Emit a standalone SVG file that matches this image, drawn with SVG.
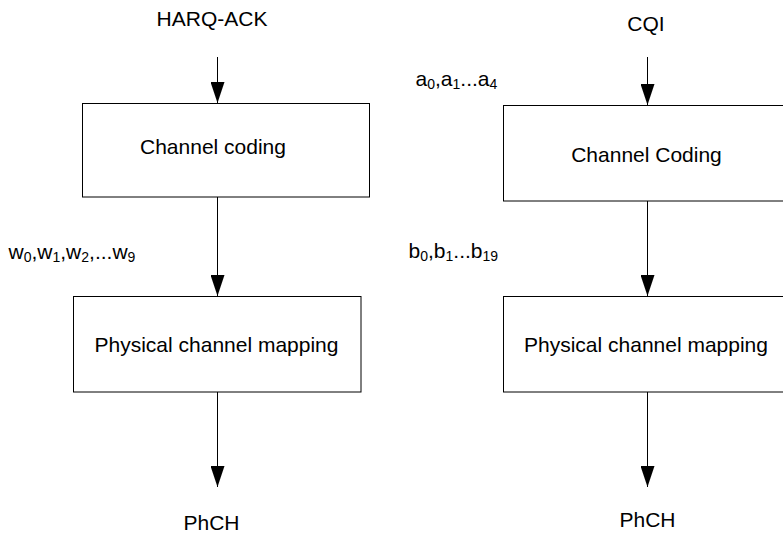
<svg xmlns="http://www.w3.org/2000/svg" width="783" height="535" viewBox="0 0 783 535">
<style>
text{font-family:"Liberation Sans",Arial,sans-serif;font-size:21px;fill:#000}
.c{text-anchor:middle}
.s{font-size:14px}
.box{fill:#fff;stroke:#000;stroke-width:1}
.ln{stroke:#000;stroke-width:1;fill:none}
</style>
<defs>
<marker id="ah" viewBox="0 0 21 14" refX="21" refY="7" markerWidth="21" markerHeight="14" markerUnits="userSpaceOnUse" orient="auto">
<path d="M0,0 L21,7 L0,14 z" fill="#000"/>
</marker>
</defs>
<rect width="783" height="535" fill="#fff"/>
<g id="connectors">
<line class="ln" x1="217.5" y1="57" x2="217.5" y2="103" marker-end="url(#ah)"/>
<line class="ln" x1="217.5" y1="197" x2="217.5" y2="296" marker-end="url(#ah)"/>
<line class="ln" x1="217.5" y1="392" x2="217.5" y2="487" marker-end="url(#ah)"/>
<line class="ln" x1="647.5" y1="57" x2="647.5" y2="105" marker-end="url(#ah)"/>
<line class="ln" x1="647.5" y1="201" x2="647.5" y2="296" marker-end="url(#ah)"/>
<line class="ln" x1="647.5" y1="392" x2="647.5" y2="487" marker-end="url(#ah)"/>
</g>
<g id="harq-ack-label"><text class="c" x="212" y="26">HARQ-ACK</text></g>
<g id="cqi-label"><text class="c" x="646" y="31">CQI</text></g>
<g id="harq-coding">
<rect class="box" x="82.5" y="103.5" width="287" height="93.5"/>
<text class="c" x="213" y="154">Channel coding</text>
</g>
<g id="cqi-coding">
<rect class="box" x="503.5" y="105.5" width="300" height="95.5"/>
<text class="c" x="646.5" y="162">Channel Coding</text>
</g>
<g id="harq-mapping">
<rect class="box" x="73.5" y="296.5" width="287.5" height="95.5"/>
<text class="c" x="216.5" y="352">Physical channel mapping</text>
</g>
<g id="cqi-mapping">
<rect class="box" x="503.5" y="296.5" width="300" height="95.5"/>
<text class="c" x="646" y="352">Physical channel mapping</text>
</g>
<g id="harq-phch"><text class="c" x="211.5" y="530">PhCH</text></g>
<g id="cqi-phch"><text class="c" x="647.5" y="527">PhCH</text></g>
<g id="w-label"><text x="8.5" y="259">w<tspan class="s" dy="3">0</tspan><tspan dy="-3">,w</tspan><tspan class="s" dy="3">1</tspan><tspan dy="-3">,w</tspan><tspan class="s" dy="3">2</tspan><tspan dy="-3">,...w</tspan><tspan class="s" dy="3">9</tspan></text></g>
<g id="a-label"><text x="415.5" y="86">a<tspan class="s" dy="3">0</tspan><tspan dy="-3">,a</tspan><tspan class="s" dy="3">1</tspan><tspan dy="-3">...a</tspan><tspan class="s" dy="3">4</tspan></text></g>
<g id="b-label"><text x="408.5" y="258">b<tspan class="s" dy="3">0</tspan><tspan dy="-3">,b</tspan><tspan class="s" dy="3">1</tspan><tspan dy="-3">...b</tspan><tspan class="s" dy="3">19</tspan></text></g>
</svg>
